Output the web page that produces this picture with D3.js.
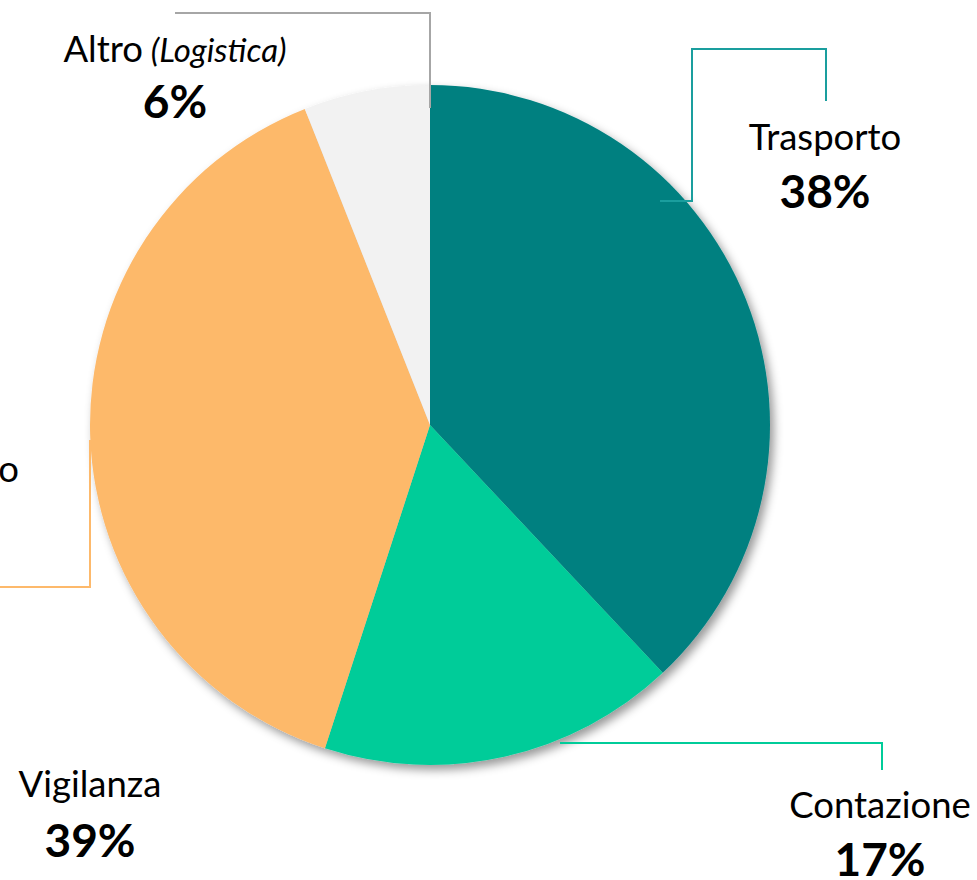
<!DOCTYPE html>
<html>
<head>
<meta charset="utf-8">
<script src="https://cdn.jsdelivr.net/npm/d3@7"></script>
<style>
  body { margin: 0; background: #fff; }
  svg { display: block; }
</style>
</head>
<body>
<div id="chart"></div>
<script>
// data
const categories = ["Trasporto", "Contazione", "Vigilanza", "Altro"];
const subLabels = ["", "", "", "(Logistica)"];
const values = [38, 17, 39, 6];
const colors = ["#008080", "#00cc99", "#fdb96b", "#f2f2f2"];
const lineColors = ["#1a9e9e", "#00cc99", "#fdb96b", "#a6a6a6"];

// layout for labels and leader lines (annotations, not data)
const W = 977, H = 880;
const cx = 430, cy = 425, radius = 340;
const labelPos = [
  { x: 825, y: 150, py: 208, line: [[660, 201], [692, 201], [692, 49], [826, 49], [826, 101]] },
  { x: 880, y: 818, py: 876, line: [[560, 743], [882, 743], [882, 770]] },
  { x: 90, y: 797, py: 857, line: [[90, 440], [90, 587], [0, 587]] },
  { x: 175, y: 62, py: 118, line: [[430, 108], [430, 13], [175, 13]] }
];

const font = "Lato, 'Open Sans', sans-serif";

const svg = d3.select("#chart").append("svg")
  .attr("width", W)
  .attr("height", H);

// soft shadow under the pie
const defs = svg.append("defs");
defs.append("filter")
  .attr("id", "shadow")
  .attr("x", "-20%").attr("y", "-20%")
  .attr("width", "140%").attr("height", "140%")
  .append("feDropShadow")
  .attr("dx", 4).attr("dy", 5)
  .attr("stdDeviation", 5)
  .attr("flood-color", "#000")
  .attr("flood-opacity", 0.4);

const pie = d3.pie().sort(null).value(d => d);
const arc = d3.arc().innerRadius(0).outerRadius(radius);
const arcs = pie(values);

const g = svg.append("g").attr("transform", `translate(${cx},${cy})`);

g.append("g")
  .attr("filter", "url(#shadow)")
  .selectAll("path")
  .data(arcs)
  .enter()
  .append("path")
  .attr("d", arc)
  .attr("fill", (d, i) => colors[i]);

// leader lines
const line = d3.line();
svg.selectAll(".leader")
  .data(labelPos)
  .enter()
  .append("path")
  .attr("class", "leader")
  .attr("d", d => line(d.line))
  .attr("fill", "none")
  .attr("stroke", (d, i) => lineColors[i])
  .attr("stroke-width", 2);

// labels
const labels = svg.selectAll(".lbl")
  .data(categories)
  .enter()
  .append("g")
  .attr("class", "lbl");

const names = labels.append("text")
  .attr("x", (d, i) => labelPos[i].x)
  .attr("y", (d, i) => labelPos[i].y)
  .attr("text-anchor", "middle")
  .attr("font-family", font)
  .attr("font-size", 36.5)
  .attr("fill", "#000");

names.append("tspan").text(d => d);
names.filter((d, i) => subLabels[i] !== "")
  .append("tspan")
  .attr("font-style", "italic")
  .attr("font-size", 33)
  .text((d, i) => " " + subLabels[3]);

labels.append("text")
  .attr("x", (d, i) => labelPos[i].x)
  .attr("y", (d, i) => labelPos[i].py)
  .attr("text-anchor", "middle")
  .attr("font-family", font)
  .attr("font-weight", 700)
  .attr("font-size", 46)
  .attr("fill", "#000")
  .text((d, i) => values[i] + "%");

// clipped label at the left edge
svg.append("text")
  .attr("x", 19)
  .attr("y", 482)
  .attr("text-anchor", "end")
  .attr("font-family", font)
  .attr("font-size", 36.5)
  .text("o");
</script>
</body>
</html>
